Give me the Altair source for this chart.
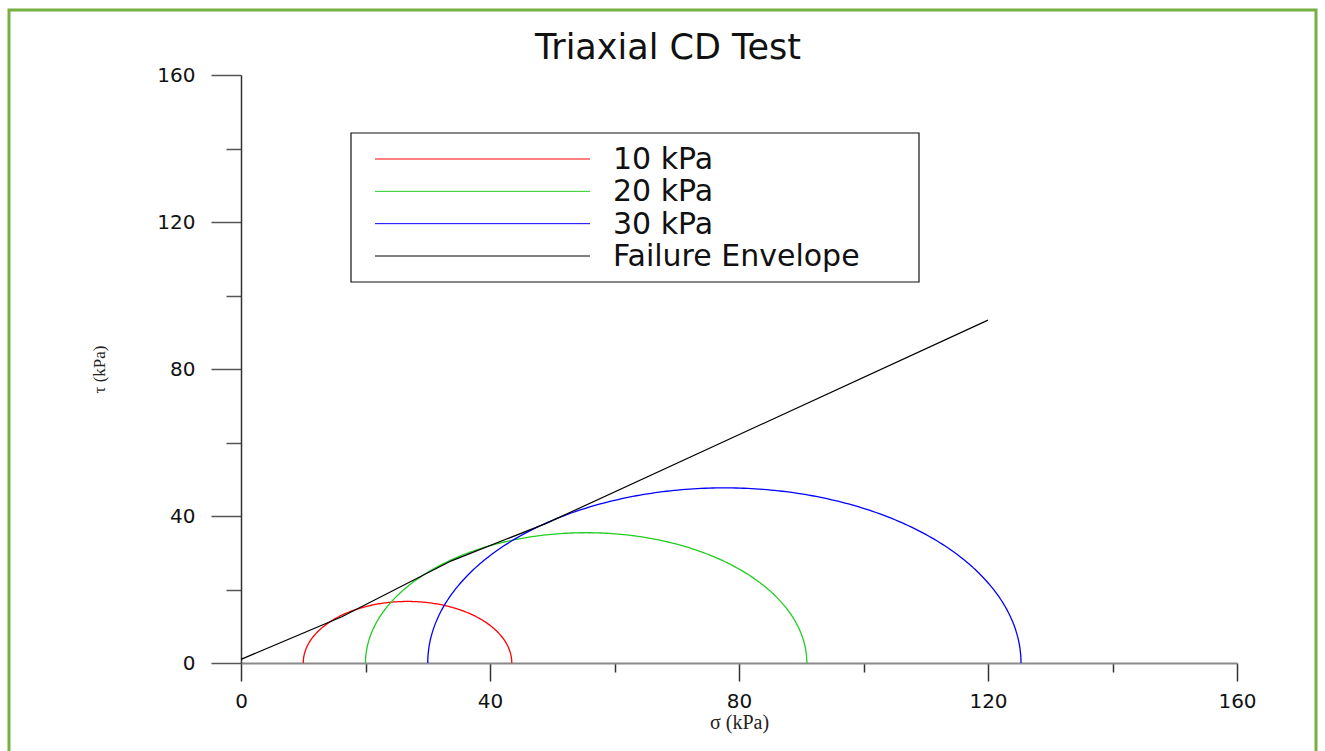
import altair as alt
import numpy as np
import pandas as pd

# ---- data ----
title_text = ["Triaxial CD Test"]
names = ["10 kPa", "20 kPa", "30 kPa", "Failure Envelope"]
colors = ["#ff0000", "#22cc22", "#0000ff", "#000000"]
sigma3 = [10.0, 20.0, 30.0]          # confining stress (left end of circle)
sigma1 = [43.5, 90.9, 125.3]         # major principal stress (right end)
env_sigma = [0.0, 16.2, 33.8, 49.05, 120.0]
env_tau = [1.0, 12.6, 27.8, 38.0, 93.3]
x_ticks = list(range(0, 161, 20))
y_ticks = list(range(0, 161, 20))

# ---- Mohr semicircles from sigma3 / sigma1 ----
rows = []
for name, s3, s1 in zip(names[:3], sigma3, sigma1):
    c = (s1 + s3) / 2.0
    r = (s1 - s3) / 2.0
    for i, th in enumerate(np.linspace(np.pi, 0, 241)):
        rows.append({"name": name, "i": i, "sigma": c + r * np.cos(th), "tau": r * np.sin(th)})
circles = pd.DataFrame(rows)
env = pd.DataFrame({"name": names[3], "i": range(len(env_sigma)), "sigma": env_sigma, "tau": env_tau})
legend_df = pd.DataFrame({"name": names})
title_df = pd.DataFrame({"t": title_text})

color = alt.Color("name:N", scale=alt.Scale(domain=names, range=colors), legend=None)

xaxis = alt.Axis(
    values=x_ticks, title="σ (kPa)", grid=False, labelFlush=False,
    labelExpr="datum.value % 40 == 0 ? datum.label : ''",
    tickSize={"condition": {"test": "datum.value % 40 == 0", "value": 18}, "value": 9},
    labelPadding=10, labelFont="DejaVu Sans", labelFontSize=20, labelColor="#111",
    titleFont="Liberation Serif", titleFontSize=20, titleFontWeight="normal", titleColor="#222",
    titlePadding=1, domainColor="#8a8a8a", domainWidth=2, tickColor="#333", tickWidth=1.5,
)
yaxis = alt.Axis(
    values=y_ticks, title="τ (kPa)", grid=False, labelFlush=False,
    labelExpr="datum.value % 40 == 0 ? datum.label : ''",
    tickSize={"condition": {"test": "datum.value % 40 == 0", "value": 30}, "value": 15},
    labelPadding=16, labelFont="DejaVu Sans", labelFontSize=20, labelColor="#111",
    titleFont="Liberation Serif", titleFontSize=17, titleFontWeight="normal", titleColor="#222",
    titlePadding=48, domainColor="#333", domainWidth=1.5, tickColor="#555", tickWidth=1.5,
)
xs = alt.Scale(domain=[0, 160], nice=False, zero=False)
ys = alt.Scale(domain=[0, 160], nice=False, zero=False)

circ = alt.Chart(circles).mark_line(strokeWidth=1.3).encode(
    x=alt.X("sigma:Q", scale=xs, axis=xaxis),
    y=alt.Y("tau:Q", scale=ys, axis=yaxis),
    color=color, detail="name:N", order="i:Q",
)
envl = alt.Chart(env).mark_line(strokeWidth=1.2).encode(
    x=alt.X("sigma:Q", scale=xs), y=alt.Y("tau:Q", scale=ys), color=color, order="i:Q"
)
main = alt.layer(circ, envl)

# ---- hand-drawn legend box ----
one = pd.DataFrame({"k": [0]})
box = alt.Chart(one).mark_rect(fill="white", stroke="#111", strokeWidth=1.2).encode(
    x=alt.value(110), x2=alt.value(678), y=alt.value(58), y2=alt.value(207)
)
ly = alt.Y("name:N", sort=names, scale=alt.Scale(type="point", range=[84, 181], padding=0), axis=None)
lrule = alt.Chart(legend_df).mark_rule(strokeWidth=1).encode(
    x=alt.value(134), x2=alt.value(349), y=ly, color=color
)
ltext = alt.Chart(legend_df).mark_text(
    align="left", baseline="middle", font="DejaVu Sans", fontSize=30, color="#111", dy=1
).encode(x=alt.value(372), y=ly, text="name:N")
legend = alt.layer(box, lrule, ltext)

frame = alt.Chart(one).mark_rect(fill=None, stroke="#76b043", strokeWidth=3).encode(
    x=alt.value(-232), x2=alt.value(1075), y=alt.value(-65), y2=alt.value(720)
)
title = alt.Chart(title_df).mark_text(
    align="center", baseline="middle", font="DejaVu Sans", fontSize=35, color="#111"
).encode(x=alt.value(427), y=alt.value(-27), text="t:N")

chart = alt.layer(frame, title, main, legend).resolve_scale(y="independent").properties(
    width=996, height=588,
    autosize=alt.AutoSizeParams(type="none"),
    padding={"left": 241, "top": 75, "right": 88, "bottom": 88},
    background="white",
).configure_view(strokeWidth=0)

chart.save("out.html", embed_options={"renderer": "svg", "actions": False})
